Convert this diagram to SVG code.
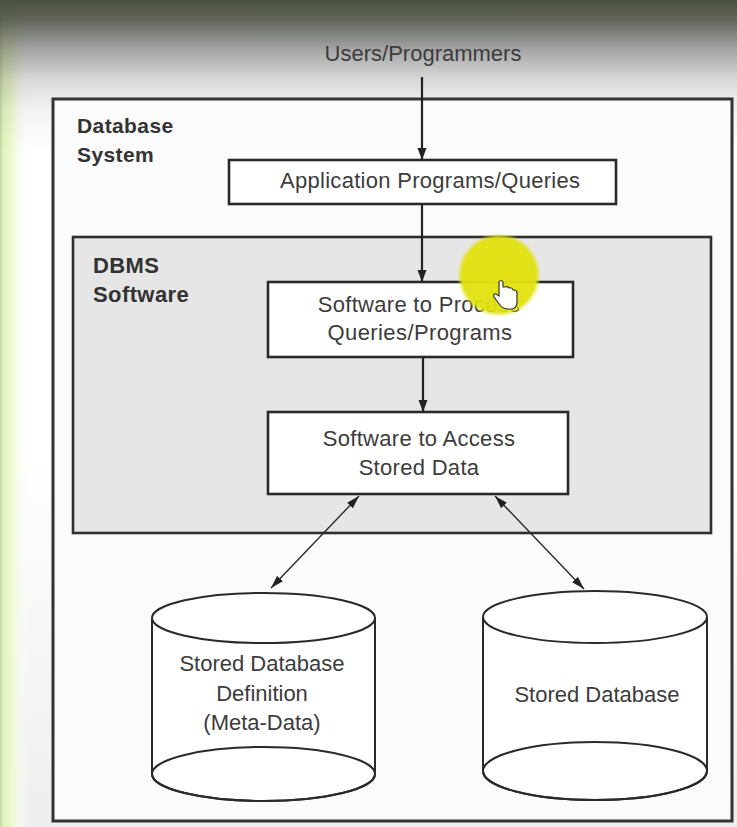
<svg xmlns="http://www.w3.org/2000/svg" width="737" height="827" viewBox="0 0 737 827">
  <defs>
    <linearGradient id="topShade" gradientUnits="userSpaceOnUse" x1="0" y1="0" x2="0" y2="150">
      <stop offset="0" stop-color="#4a5040" stop-opacity="1"/>
      <stop offset="0.13" stop-color="#4f5448" stop-opacity="0.9"/>
      <stop offset="0.33" stop-color="#505050" stop-opacity="0.52"/>
      <stop offset="0.53" stop-color="#505050" stop-opacity="0.22"/>
      <stop offset="0.73" stop-color="#505050" stop-opacity="0.07"/>
      <stop offset="1" stop-color="#505050" stop-opacity="0"/>
    </linearGradient>
    <linearGradient id="leftStrip" gradientUnits="userSpaceOnUse" x1="0" y1="0" x2="30" y2="0">
      <stop offset="0" stop-color="#c4d4a8"/>
      <stop offset="0.12" stop-color="#e2f2bc"/>
      <stop offset="0.4" stop-color="#eefad0"/>
      <stop offset="1" stop-color="#ffffff" stop-opacity="0"/>
    </linearGradient>
    <linearGradient id="bottomShade" gradientUnits="userSpaceOnUse" x1="0" y1="450" x2="0" y2="827">
      <stop offset="0" stop-color="#ffffff"/>
      <stop offset="1" stop-color="#eeeeee"/>
    </linearGradient>
    <radialGradient id="spot">
      <stop offset="0" stop-color="#e2e210" stop-opacity="0.97"/>
      <stop offset="0.88" stop-color="#e2e210" stop-opacity="0.95"/>
      <stop offset="1" stop-color="#e2e210" stop-opacity="0"/>
    </radialGradient>
    <marker id="arrow" markerUnits="userSpaceOnUse" markerWidth="12" markerHeight="10" refX="12" refY="5" orient="auto-start-reverse" viewBox="0 0 12 10">
      <path d="M0,0.5 L12,5 L0,9.5 Z" fill="#222"/>
    </marker>
    <marker id="arrowSmall" markerUnits="userSpaceOnUse" markerWidth="13" markerHeight="9" refX="13" refY="4.5" orient="auto-start-reverse" viewBox="0 0 13 9">
      <path d="M0,0.5 L13,4.5 L0,8.5 Z" fill="#222"/>
    </marker>
  </defs>
  <style>
    .box { fill: #ffffff; stroke: #2a2a2a; stroke-width: 2.6; }
    .frame { fill: none; stroke: #333333; stroke-width: 3; }
    .dbms { fill: #e6e6e6; stroke: #2e2e2e; stroke-width: 2.6; }
    .cyl { fill: #ffffff; stroke: #2a2a2a; stroke-width: 2; }
    .t { font-family: "Liberation Sans", Arial, sans-serif; font-size: 22px; fill: #3c3c3c; text-anchor: middle; }
    .b { font-family: "Liberation Sans", Arial, sans-serif; font-size: 21px; font-weight: bold; fill: #333333; letter-spacing: 0.4px; }
    .main { stroke: #222; stroke-width: 2.2; fill: none; marker-end: url(#arrow); }
    .dbl { stroke: #2a2a2a; stroke-width: 1.4; fill: none; marker-start: url(#arrowSmall); marker-end: url(#arrowSmall); }
  </style>

  <!-- background -->
  <rect x="0" y="0" width="737" height="827" fill="url(#bottomShade)"/>
  <rect x="0" y="0" width="30" height="827" fill="url(#leftStrip)"/>
  <rect x="0" y="0" width="737" height="150" fill="url(#topShade)"/>

  <g id="database-system">
    <rect class="frame" x="53" y="99" width="679" height="722" style="fill:#fbfbfb"/>
    <text class="b" x="77" y="133">Database</text>
    <text class="b" x="77" y="162">System</text>
  </g>

  <g id="users">
    <text class="t" x="423" y="61">Users/Programmers</text>
  </g>

  <g id="app-programs">
    <rect class="box" x="229" y="160" width="387" height="44"/>
    <text class="t" x="430" y="188" textLength="300" lengthAdjust="spacing">Application Programs/Queries</text>
  </g>

  <g id="dbms-software">
    <rect class="dbms" x="73" y="237" width="638" height="296"/>
    <text class="b" x="93" y="273" style="font-size:22px">DBMS</text>
    <text class="b" x="93" y="302" style="font-size:22px">Software</text>
  </g>

  <g id="process-software">
    <rect class="box" x="268" y="282" width="305" height="75"/>
    <text class="t" x="419" y="312" letter-spacing="0.3">Software to Process</text>
    <text class="t" x="420" y="340" letter-spacing="0.4">Queries/Programs</text>
  </g>

  <g id="access-software">
    <rect class="box" x="268" y="412" width="300" height="82"/>
    <text class="t" x="419" y="446" letter-spacing="0.3">Software to Access</text>
    <text class="t" x="419" y="475" letter-spacing="0.3">Stored Data</text>
  </g>

  <g id="stored-definition">
    <path class="cyl" d="M152,618 L152,774 A111.5,27 0 0 0 375,774 L375,618"/>
    <ellipse class="cyl" cx="263.5" cy="774" rx="111.5" ry="27" style="fill:none"/>
    <ellipse class="cyl" cx="263.5" cy="618" rx="111.5" ry="25"/>
    <text class="t" x="262" y="671">Stored Database</text>
    <text class="t" x="262" y="701">Definition</text>
    <text class="t" x="262" y="730">(Meta-Data)</text>
  </g>

  <g id="stored-database">
    <path class="cyl" d="M483,617 L483,771 A112,29 0 0 0 707,771 L707,617"/>
    <ellipse class="cyl" cx="595" cy="771" rx="112" ry="29" style="fill:none"/>
    <ellipse class="cyl" cx="595" cy="617" rx="112" ry="26"/>
    <text class="t" x="597" y="702">Stored Database</text>
  </g>

  <g id="connectors">
    <line class="main" x1="422" y1="77" x2="422" y2="160"/>
    <line class="main" x1="422" y1="204" x2="422" y2="282"/>
    <line class="main" x1="423" y1="357" x2="423" y2="412"/>
    <line class="dbl" x1="359" y1="496" x2="271" y2="588"/>
    <line class="dbl" x1="495" y1="496" x2="584" y2="589"/>
  </g>

  <!-- presenter highlight -->
  <circle cx="499" cy="275" r="42" fill="url(#spot)"/>
  <path d="M499,282 L499,296 L496,294 Q493,293 494,297 L500,305 Q503,309 508,309 L512,309 Q517,308 517,302 L517,293 Q517,290 514,290 L513,290 Q512,287 509,288 Q508,286 505,287 L503,287 L503,282 Q501,279 499,282 Z" fill="#ffffff" stroke="#333" stroke-width="1.2"/>
</svg>
